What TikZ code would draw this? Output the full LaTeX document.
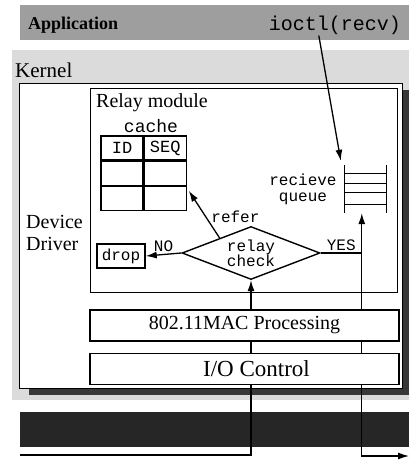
\documentclass[tikz,border=0pt]{standalone}
\usepackage{fontspec}
\setmainfont{Liberation Serif}
\setmonofont{Liberation Mono}
\usepackage{xcolor}
\usetikzlibrary{positioning,arrows.meta,calc,shapes.geometric}
\colorlet{appgray}{black!38}
\colorlet{kernelgray}{black!14}
\colorlet{nicgray}{black!85}
\colorlet{shadowgray}{black!78}

\begin{document}
\begin{tikzpicture}[
  x=1pt,y=-1pt,
  >={Latex[length=11pt,width=7pt]},
  % --- boxes and labels ---
  box/.style    ={draw=black,line width=1.4pt,fill=white,inner sep=0pt},
  cell/.style   ={draw=black,line width=1.2pt,minimum width=42pt,minimum height=24pt,
                  inner sep=0pt,font=\fontsize{17}{18}\selectfont\ttfamily},
  rmlbl/.style  ={font=\fontsize{20}{22}\selectfont,inner sep=1pt},
  ttlbl/.style  ={font=\fontsize{16}{16}\selectfont\ttfamily,inner sep=1pt},
  test/.style   ={draw=black,line width=1.4pt,diamond,aspect=2.6,fill=white,
                  inner sep=0pt,align=center,minimum width=138pt,minimum height=53pt,
                  font=\fontsize{16}{15}\selectfont\ttfamily},
  flow/.style   ={->,line width=1.3pt,draw=black},
  edgelbl/.style={ttlbl,inner sep=2pt},
]
\useasboundingbox (0,0) rectangle (409,468);

% ============================ layers (background bands) ====================
\node[fill=appgray,minimum width=389pt,minimum height=35pt,inner sep=0pt,
      anchor=north west] (appbar) at (20,5) {};
\node[fill=kernelgray,minimum width=397pt,minimum height=350pt,inner sep=0pt,
      anchor=north west] (kernel) at (12,50) {};
\node[fill=nicgray,minimum width=389pt,minimum height=35pt,inner sep=0pt,
      anchor=north west] (nic) at (20,412) {};

\node[rmlbl,font=\fontsize{18}{20}\selectfont\bfseries,anchor=west] (applbl) at (27,25) {Application};
\node[ttlbl,font=\fontsize{20}{20}\selectfont\ttfamily,anchor=east] (ioctl) at (402,25) {ioctl(recv)};
\node[rmlbl,font=\fontsize{21}{22}\selectfont,anchor=west] (kernlbl) at (14,70) {Kernel};

% ============================ device driver =================================
% hard shadow first, offset 7pt right/down from the driver frame
\coordinate (ddnw) at (19,83);
\coordinate (ddse) at (402,388);
\fill[shadowgray] ($(ddnw)+(10,7)$) rectangle ($(ddse)+(7,7)$);
\node[box,minimum width=383pt,minimum height=305pt,anchor=north west] (driver) at (ddnw) {};
\node[rmlbl,align=left,anchor=west] (ddlbl) at (25,233) {Device\\Driver};

\node[box,minimum width=307pt,minimum height=204pt,anchor=north west] (relay) at (90,88) {};
\node[rmlbl,anchor=west] (relaylbl) at (95,103) {Relay module};

% cache table, 2 columns x 3 rows
\node[cell] (id1) at (122,148) {ID};
\node[cell,right=0pt of id1] (seq1) {SEQ};
\node[cell,below=0pt of id1] (id2) {};
\node[cell,below=0pt of seq1] (seq2) {};
\node[cell,below=0pt of id2] (id3) {};
\node[cell,below=0pt of seq2] (seq3) {};
\node[ttlbl,font=\fontsize{18}{18}\selectfont\ttfamily] (cachelbl) at (151,126) {cache};

% receive queue: two rails and four slots
\node[minimum width=41pt,minimum height=48pt,inner sep=0pt] (queue) at (365.5,189) {};
\draw[line width=1.3pt] (queue.north west) -- (queue.south west)
                        (queue.north east) -- (queue.south east);
\foreach \dy in {9,19,28,40}
  \draw[line width=1.3pt] ($(queue.north west)+(0,\dy)$) -- ($(queue.north east)+(0,\dy)$);
\node[ttlbl,align=center,left=7pt of queue] (qlbl) {recieve\\queue};

\node[test] (check) at (251,253) {relay\\check};
\node[box,ttlbl,minimum width=48pt,minimum height=24pt] (drop) at (121,256) {drop};

% =============================== flow ======================================
\coordinate (rx)    at ($(queue.south west)+(17,0)$);
\coordinate (yesj)  at (rx |- check.east);
\coordinate (nicin) at (20,455);
\coordinate (rbot)  at (rx |- nicin);
\coordinate (nicout) at (409,456);

\draw[flow] ($(ioctl.south)+(-16,0)$) -- ($(queue.north west)+(-4,-4)$);
\draw[flow] (check.west) -- node[edgelbl,above]{NO} (drop.east);
\draw[line width=1.3pt] (check.east) -- node[edgelbl,above]{YES} (yesj);
\draw[flow] ($(check.north)!0.45!(check.west)$) --
  node[edgelbl,right=3pt,pos=0.45]{refer} ($(seq3.north east)+(2,5)$);

% radio in -> relay check, relay check -> receive queue / radio out
% (drawn before the processing boxes, which hide them)
\draw[flow] (nicin) -- (nicin -| check.south) -- (check.south);
\draw[flow,<->] (rx) -- (rbot |- nicout) -- (nicout);

% ============================ lower processing ==============================
\node[box,rmlbl,minimum width=309pt,minimum height=31pt] (mac) at (244.5,325.5) {802.11MAC Processing};
\node[box,rmlbl,font=\fontsize{23}{24}\selectfont,minimum width=309pt,minimum height=31pt,
      below=11pt of mac] (ioc) {\hspace*{24pt}I/O Control};

\end{tikzpicture}
\end{document}
